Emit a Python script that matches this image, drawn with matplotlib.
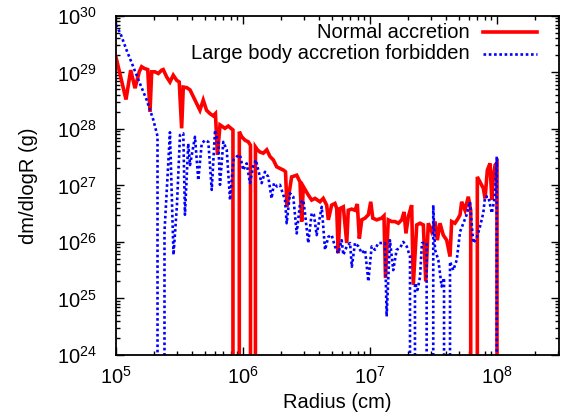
import numpy as np
import matplotlib
matplotlib.use("Agg")
import matplotlib.pyplot as plt
from matplotlib import ticker

plt.rcParams['font.family'] = ['Liberation Sans', 'DejaVu Sans']
plt.rcParams['mathtext.fontset'] = 'custom'
plt.rcParams['mathtext.rm'] = 'Liberation Sans'

# ==========================================
# data, as log10(radius / cm) and log10(dm/dlogR / g)
# None = empty bin (drawn as a drop to the bottom of the log axis)
red_label = "Normal accretion"
red_log10r = [5.00, 5.079, 5.116, 5.150, 5.183, 5.202, 5.223, 5.250, 5.268, 5.281,
              5.307, 5.333, 5.360, 5.372, 5.399, 5.425, 5.451, 5.478, 5.498, 5.517,
              5.530, 5.557, 5.583, 5.609, 5.635, 5.661, 5.687, 5.713, 5.740, 5.766,
              5.783, 5.799, 5.819, 5.858, 5.884, 5.921, 5.945, 5.971, 5.990, 6.016,
              6.042, 6.059, 6.079, 6.098, 6.113, 6.134, 6.160, 6.187, 6.213, 6.239,
              6.265, 6.291, 6.319, 6.335, 6.346, 6.383, 6.423, 6.449, 6.462, 6.475,
              6.514, 6.541, 6.567, 6.606, 6.632, 6.659, 6.672, 6.698, 6.724, 6.738,
              6.750, 6.764, 6.790, 6.817, 6.829, 6.856, 6.882, 6.900, 6.916, 6.935,
              6.961, 6.987, 7.006, 7.022, 7.053, 7.092, 7.110, 7.122, 7.144, 7.171,
              7.197, 7.223, 7.250, 7.268, 7.283, 7.302, 7.328, 7.341, 7.368, 7.394,
              7.420, 7.439, 7.459, 7.486, 7.512, 7.530, 7.551, 7.577, 7.604, 7.630,
              7.643, 7.669, 7.695, 7.709, 7.722, 7.748, 7.774, 7.793, 7.821, 7.845,
              7.866, 7.892, 7.906, 7.924, 7.945, 7.959, 7.972, 7.985, 8.000, 8.016]
red_log10m = [29.27, 28.52, 29.04, 28.72, 29.01, 29.10, 29.07, 29.05, 28.30, 29.01,
              29.01, 28.98, 29.04, 29.05, 28.92, 28.83, 28.95, 28.86, 28.83, 28.01,
              28.74, 28.73, 28.69, 28.57, 28.45, 28.33, 28.51, 28.33, 28.27, 28.23,
              28.27, 27.54, 28.07, 28.01, 28.05, 27.98, None, 27.95, 27.86, 27.80,
              27.77, 27.71, None, 27.68, 27.63, 27.59, 27.57, 27.63, 27.51, 27.45,
              27.33, 27.30, 27.27, 27.24, 26.62, 27.15, 27.18, 27.06, 26.36, 26.98,
              26.83, 26.74, 26.77, 26.71, 26.77, 26.65, 26.39, 26.65, 26.68, 26.59,
              25.80, 26.59, 26.62, 25.98, 26.56, 26.58, 26.56, 26.67, 26.06, 26.39,
              26.42, 26.48, 26.71, 26.42, 26.39, 26.42, 26.46, 25.36, 26.39, 26.36,
              26.36, 26.33, 26.39, 26.53, 26.15, 26.45, 26.65, 25.24, 26.30, 26.33,
              26.30, 25.30, 26.33, 26.18, 26.36, 26.03, 26.33, 26.12, 26.03, 25.74,
              26.36, 26.33, 26.42, 26.48, 26.71, 26.56, 26.80, 26.56, None, 27.15,
              27.06, 26.95, 26.77, 27.27, 27.39, 26.74, 27.18, 27.36, 27.40, None]

blue_label = "Large body accretion forbidden"
blue_log10r = [5.00, 5.035, 5.084, 5.136, 5.189, 5.242, 5.294, 5.327, 5.354, 5.382,
               5.425, 5.453, 5.480, 5.504, 5.530, 5.543, 5.569, 5.583, 5.622, 5.648,
               5.675, 5.701, 5.727, 5.754, 5.780, 5.806, 5.819, 5.845, 5.872, 5.898,
               5.924, 5.950, 5.976, 6.002, 6.029, 6.055, 6.079, 6.102, 6.120, 6.147,
               6.173, 6.199, 6.225, 6.244, 6.268, 6.291, 6.331, 6.344, 6.370, 6.396,
               6.423, 6.449, 6.475, 6.488, 6.514, 6.541, 6.559, 6.580, 6.606, 6.620,
               6.632, 6.646, 6.672, 6.698, 6.724, 6.750, 6.777, 6.790, 6.817, 6.843,
               6.857, 6.882, 6.909, 6.935, 6.961, 6.987, 7.013, 7.039, 7.065, 7.092,
               7.118, 7.131, 7.157, 7.183, 7.210, 7.236, 7.262, 7.289, 7.315, 7.335,
               7.354, 7.374, 7.394, 7.409, 7.446, 7.472, 7.498, 7.512, 7.538, 7.564,
               7.583, 7.606, 7.630, 7.656, 7.683, 7.709, 7.735, 7.761, 7.787, 7.813,
               7.839, 7.866, 7.892, 7.906, 7.932, 7.959, 7.984, 7.998, 8.016]
blue_log10m = [29.84, 29.69, 29.39, 29.10, 28.80, 28.51, 28.16, 27.87, None, 26.18,
               27.94, 25.77, 26.65, 27.89, 27.92, 26.48, 27.74, 27.36, 27.86, 27.09,
               27.74, 27.80, 27.77, 26.92, 27.98, 27.74, 27.01, 27.77, 27.63, 26.74,
               27.45, 27.51, 27.54, 27.27, 27.39, 27.04, 27.33, 27.45, 27.27, 27.04,
               27.24, 27.15, 26.77, 27.04, 26.98, 27.01, 26.74, 26.33, 26.86, 26.80,
               26.15, 26.68, 26.74, 26.51, 25.98, 26.51, 26.48, 26.12, 26.45, 26.62,
               26.27, 25.86, 26.09, 26.12, 25.92, 25.80, 26.03, 25.77, 25.92, 25.98,
               25.56, 25.98, 25.92, 25.80, 25.86, 25.30, 25.92, 25.86, 25.98, 25.98,
               25.98, 24.68, 26.03, 25.50, 25.86, 25.89, 26.00, 25.92, 25.74, None,
               25.27, 25.15, 25.38, 25.98, 25.98, None, 26.65, 25.86, 25.68, 25.21,
               25.36, None, 25.65, 25.50, 25.68, 26.18, 26.33, 26.48, 26.71, 25.98,
               26.06, 26.27, 26.51, 26.80, 26.80, 26.51, 26.80, 27.51, None]

x_ticks = [1e5, 1e6, 1e7, 1e8]
y_ticks = [1e24, 1e25, 1e26, 1e27, 1e28, 1e29, 1e30]


def to_linear(vals):
    # empty bins -> 0, the log axis clips them to the bottom
    return np.array([10.0 ** v if v is not None else 0.0 for v in vals])


fig = plt.figure(figsize=(5.63, 4.18), dpi=100)
ax = fig.add_axes([0.206, 0.151, 0.787, 0.811])

ax.plot(10.0 ** np.array(red_log10r), to_linear(red_log10m), color='#ff0000', lw=2.6,
        solid_joinstyle='miter')
ax.plot(10.0 ** np.array(blue_log10r), to_linear(blue_log10m), color='#0000ff', lw=1.9,
        linestyle=(0, (1, 1)), dash_capstyle='butt')

ax.set_xscale('log', nonpositive='clip')
ax.set_yscale('log', nonpositive='clip')
ax.set_xlim(1e5, 3.08e8)
ax.set_ylim(1e24, 1e30)
ax.xaxis.set_major_locator(ticker.FixedLocator(x_ticks))
ax.yaxis.set_major_locator(ticker.FixedLocator(y_ticks))
ax.xaxis.set_major_formatter(ticker.LogFormatterSciNotation())
ax.yaxis.set_major_formatter(ticker.LogFormatterSciNotation())
ax.xaxis.set_minor_formatter(ticker.NullFormatter())
ax.yaxis.set_minor_formatter(ticker.NullFormatter())

fs = 14.5
ax.tick_params(which='both', direction='in', top=True, right=True, labelsize=fs)
ax.tick_params(which='major', length=6, width=1.0)
ax.tick_params(which='minor', length=3, width=1.0)
ax.tick_params(axis='y', which='major', pad=14)
ax.tick_params(axis='x', which='major', pad=8)
for s in ax.spines.values():
    s.set_linewidth(1.3)

ax.set_xlabel("Radius (cm)", fontsize=fs)
ax.set_ylabel("dm/dlogR (g)", fontsize=fs)
ax.xaxis.set_label_coords(0.5, -0.112)
ax.yaxis.set_label_coords(-0.175, 0.5)

# gnuplot style key: text right aligned, sample to the right
key_rows = [(red_label, dict(color='#ff0000', lw=2.6)),
            (blue_label, dict(color='#0000ff', lw=1.9, linestyle=(0, (1, 1)),
                              dash_capstyle='butt'))]
for i, (lab, sty) in enumerate(key_rows):
    yk = 0.951 - i * 0.062
    ax.text(0.799, yk, lab, ha='right', va='center', fontsize=fs, transform=ax.transAxes)
    ax.plot([0.828, 0.950], [yk, yk], transform=ax.transAxes, **sty)

fig.savefig("out.png", dpi=100)
